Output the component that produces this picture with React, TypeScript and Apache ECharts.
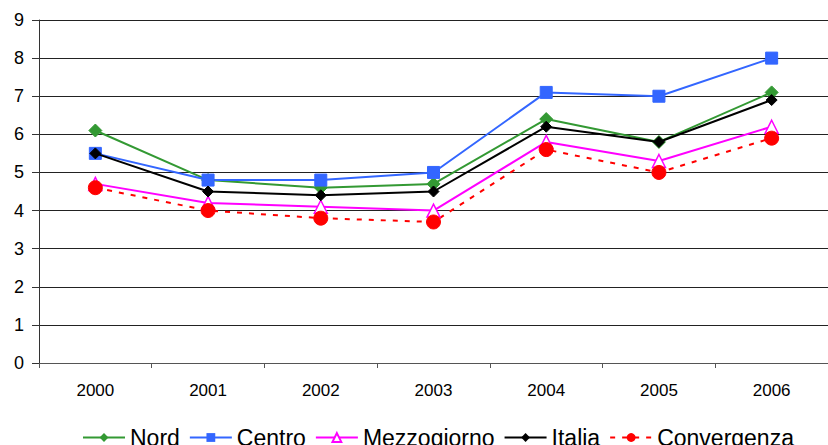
import React, { useEffect, useRef } from "react";
import * as echarts from "echarts";

const years = ["2000", "2001", "2002", "2003", "2004", "2005", "2006"];
const nord = [6.1, 4.8, 4.6, 4.7, 6.4, 5.8, 7.1];
const centro = [5.5, 4.8, 4.8, 5.0, 7.1, 7.0, 8.0];
const mezzogiorno = [4.7, 4.2, 4.1, 4.0, 5.8, 5.3, 6.2];
const italia = [5.5, 4.5, 4.4, 4.5, 6.2, 5.8, 6.9];
const convergenza = [4.6, 4.0, 3.8, 3.7, 5.6, 5.0, 5.9];

const FONT = "'Liberation Sans', Arial, sans-serif";

export default function App() {
  const ref = useRef<HTMLDivElement>(null);
  useEffect(() => {
    document.body.style.margin = "0";
    document.body.style.overflow = "hidden";
    const chart = echarts.init(ref.current!, null, { renderer: "svg" });
    const mk = (name: string, data: number[], color: string, symbol: string, size: number, extra: any = {}) => ({
      name,
      type: "line",
      data,
      symbol,
      symbolSize: size,
      showSymbol: true,
      color,
      lineStyle: { color, width: 2, type: extra.dash ? [5, 7] : "solid" },
      itemStyle: extra.itemStyle || { color, borderColor: color },
      z: extra.z || 2,
    });
    chart.setOption({
      animation: false,
      backgroundColor: "#ffffff",
      textStyle: { fontFamily: FONT },
      grid: { left: 39, top: 20, bottom: 82, right: -14, containLabel: false },
      legend: {
        left: 77,
        top: 421,
        itemWidth: 42,
        itemHeight: 11,
        itemGap: 9,
        textStyle: { fontSize: 23, color: "#000", fontFamily: FONT },
        data: ["Nord", "Centro", "Mezzogiorno", "Italia", "Convergenza"],
      },
      xAxis: {
        type: "category",
        data: years,
        boundaryGap: true,
        axisLine: { show: true, lineStyle: { color: "#555", width: 1 } },
        axisTick: { show: true, length: 5, lineStyle: { color: "#555" } },
        axisLabel: { color: "#000", fontSize: 17, margin: 19, fontFamily: FONT },
        splitLine: { show: false },
      },
      yAxis: {
        type: "value",
        min: 0,
        max: 9,
        interval: 1,
        axisLine: { show: true, lineStyle: { color: "#333", width: 1 } },
        axisTick: { show: true, length: 7, lineStyle: { color: "#333" } },
        axisLabel: { color: "#000", fontSize: 18, margin: 15, fontFamily: FONT },
        splitLine: { show: true, lineStyle: { color: "#222", width: 1 } },
      },
      series: [
        mk("Nord", nord, "#339933", "diamond", 13),
        mk("Centro", centro, "#3366FF", "rect", 12),
        mk("Mezzogiorno", mezzogiorno, "#FF00FF", "triangle", 13, {
          itemStyle: { color: "#ffffff", borderColor: "#FF00FF", borderWidth: 1.5 },
        }),
        mk("Italia", italia, "#000000", "diamond", 11, { z: 3 }),
        mk("Convergenza", convergenza, "#FF0000", "circle", 14, { dash: true }),
      ],
    });
    return () => chart.dispose();
  }, []);
  return <div ref={ref} style={{ width: 828, height: 445 }} />;
}
